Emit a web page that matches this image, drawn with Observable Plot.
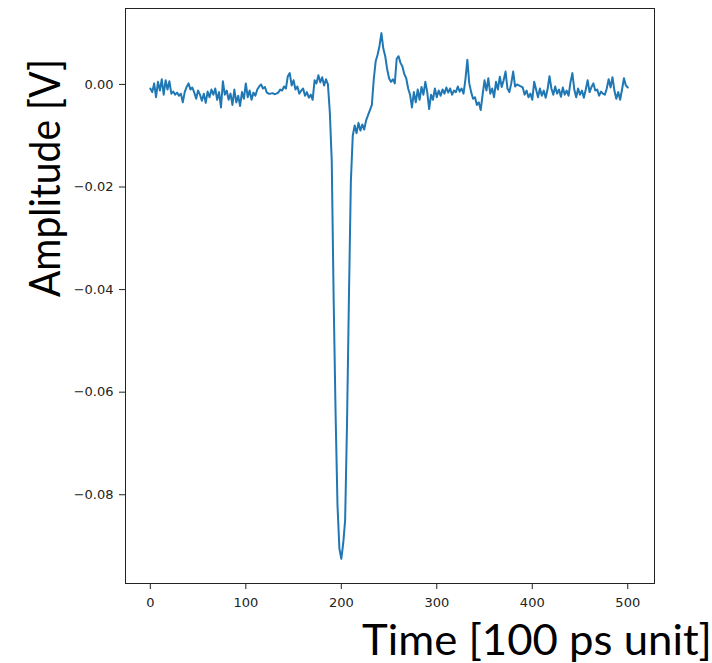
<!DOCTYPE html>
<html>
<head>
<meta charset="utf-8">
<script src="https://cdn.jsdelivr.net/npm/d3@7"></script>
<script src="https://cdn.jsdelivr.net/npm/@observablehq/plot@0.6"></script>
<style>
  html, body { margin: 0; padding: 0; background: #fff; }
  #chart { width: 712px; height: 663px; overflow: hidden; }
</style>
</head>
<body>
<div id="chart"></div>
<script>
// Sample spacing of the trace (time units of 100 ps)
const sampleStep = 2;

// Amplitude [V], one value every 2 time units, t = 0 ... 500
const amplitude = [
  -0.0008, -0.0015, 0.0002, -0.0025, 0.0005, -0.0012, 0.0010, -0.0020, 0.0008, -0.0010,
  0.0006, -0.0018, -0.0014, -0.0020, -0.0016, -0.0022, -0.0018, -0.0035, -0.0015, -0.0005,
  0.0002, -0.0010, -0.0006, -0.0016, -0.0028, -0.0012, -0.0020, -0.0032, -0.0018, -0.0036,
  -0.0014, -0.0025, -0.0010, -0.0020, -0.0008, -0.0030, -0.0015, -0.0045, 0.0006, -0.0020,
  -0.0012, -0.0030, -0.0018, -0.0040, -0.0010, -0.0035, -0.0022, -0.0042, -0.0015, -0.0028,
  0.0002, -0.0025, -0.0012, -0.0030, -0.0016, -0.0022, -0.0010, -0.0004, 0.0000, -0.0008,
  -0.0005, -0.0016, -0.0018, -0.0018, -0.0017, -0.0019, -0.0018, -0.0016, -0.0010, -0.0012,
  -0.0004, -0.0008, 0.0016, 0.0022, -0.0002, 0.0008, -0.0010, -0.0004, -0.0018, -0.0012,
  -0.0008, -0.0022, -0.0015, -0.0026, -0.0020, -0.0030, 0.0008, 0.0002, 0.0018, 0.0004,
  0.0014, -0.0002, 0.0010, 0.0000, -0.0055, -0.0150, -0.0420, -0.0640, -0.0820, -0.0905,
  -0.0925, -0.0895, -0.0850, -0.0660, -0.0415, -0.0190, -0.0100, -0.0080, -0.0095, -0.0075,
  -0.0090, -0.0078, -0.0088, -0.0070, -0.0060, -0.0050, -0.0040, 0.0010, 0.0045, 0.0058,
  0.0075, 0.0100, 0.0070, 0.0055, 0.0030, 0.0012, 0.0005, 0.0010, 0.0002, 0.0050,
  0.0055, 0.0042, 0.0035, 0.0020, 0.0012, -0.0008, -0.0020, -0.0045, -0.0015, -0.0035,
  -0.0010, -0.0030, -0.0005, -0.0020, 0.0005, -0.0015, -0.0048, -0.0020, -0.0030, -0.0008,
  -0.0025, -0.0012, -0.0022, -0.0010, -0.0018, -0.0006, -0.0016, -0.0008, -0.0020, -0.0012,
  -0.0015, -0.0004, -0.0014, -0.0008, -0.0018, 0.0010, 0.0048, 0.0002, -0.0015, -0.0028,
  -0.0025, -0.0040, -0.0035, -0.0050, -0.0020, 0.0008, -0.0012, 0.0012, -0.0018, -0.0008,
  -0.0025, 0.0005, -0.0010, 0.0015, -0.0005, 0.0008, 0.0025, -0.0008, -0.0015, 0.0002,
  0.0025, -0.0004, 0.0000, -0.0002, -0.0004, -0.0006, -0.0020, -0.0012, -0.0025, -0.0018,
  -0.0030, 0.0005, -0.0010, -0.0025, -0.0008, -0.0022, -0.0012, -0.0026, -0.0010, 0.0016,
  -0.0008, -0.0020, -0.0004, -0.0018, -0.0010, -0.0024, -0.0006, -0.0020, -0.0012, -0.0022,
  0.0004, 0.0022, -0.0010, -0.0025, -0.0008, -0.0020, -0.0012, -0.0026, -0.0010, 0.0008,
  -0.0015, -0.0005, 0.0002, -0.0012, -0.0010, -0.0022, -0.0014, -0.0018, -0.0020, -0.0008,
  0.0010, -0.0006, 0.0014, -0.0012, -0.0028, -0.0015, -0.0030, -0.0010, 0.0012, -0.0002,
  -0.0006
];

const xTicks = [0, 100, 200, 300, 400, 500];
const yTicks = [0, -0.02, -0.04, -0.06, -0.08];
const xLabel = "Time [100 ps unit]";
const yLabel = "Amplitude [V]";

const data = amplitude.map((v, i) => ({t: i * sampleStep, v}));

const svg = Plot.plot({
  width: 712,
  height: 663,
  marginLeft: 125,
  marginRight: 58,
  marginTop: 8,
  marginBottom: 80,
  style: {fontFamily: "DejaVu Sans", fontSize: "13px", color: "#222", background: "#fff", overflow: "visible"},
  x: {domain: [-26, 528], label: null},
  y: {domain: [-0.0973, 0.0148], label: null},
  marks: [
    Plot.frame({stroke: "#222", strokeWidth: 1}),
    Plot.axisX({ticks: xTicks, tickFormat: "d", tickSize: 6, tickPadding: 8, label: null, fontSize: 13}),
    Plot.axisY({ticks: yTicks, tickFormat: ".2f", tickSize: 6, tickPadding: 6, label: null, fontSize: 13}),
    Plot.line(data, {x: "t", y: "v", stroke: "#1f77b4", strokeWidth: 2, strokeLinejoin: "round"})
  ]
});

const s = d3.select(svg);
s.append("text")
  .attr("x", 362).attr("y", 655)
  .attr("text-anchor", "start")
  .attr("font-family", "Lato, 'Liberation Sans', sans-serif")
  .attr("font-size", 42)
  .attr("fill", "#000")
  .attr("textLength", 350)
  .attr("lengthAdjust", "spacingAndGlyphs")
  .text(xLabel);
s.append("text")
  .attr("transform", "translate(60,178) rotate(-90)")
  .attr("text-anchor", "middle")
  .attr("font-family", "Lato, 'Liberation Sans', sans-serif")
  .attr("font-size", 42)
  .attr("fill", "#000")
  .attr("textLength", 238)
  .attr("lengthAdjust", "spacingAndGlyphs")
  .text(yLabel);

document.getElementById("chart").appendChild(svg);
</script>
</body>
</html>
